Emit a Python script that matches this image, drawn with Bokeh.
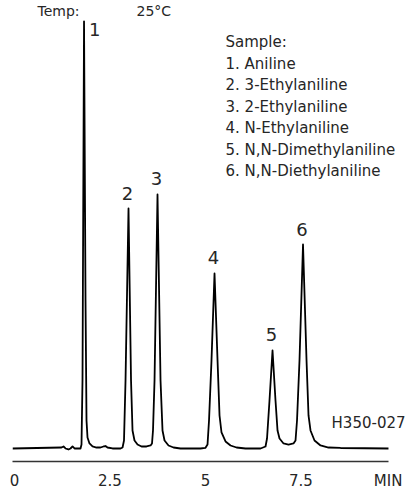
from bokeh.plotting import figure
from bokeh.models import ColumnDataSource, FixedTicker, Label, Range1d
from bokeh.core.properties import value
from bokeh.embed import file_html
from bokeh.resources import INLINE

# Chromatogram trace (time in min, detector signal in arbitrary units)
time_min = [-0.05, 1.233, 1.285, 1.337, 1.416, 1.468, 1.521, 1.573,
            1.730, 1.756, 1.782, 1.822, 1.861, 1.887, 1.913, 1.965, 2.044, 2.149, 2.253, 2.332, 2.384, 2.436, 2.567, 2.778,
            2.830, 2.868, 2.908, 2.986, 3.052, 3.091, 3.143, 3.222, 3.327, 3.458, 3.563, 3.601,
            3.627, 3.667, 3.745, 3.824, 3.876, 3.929, 4.033, 4.164, 4.347, 4.868, 4.997, 5.054,
            5.093, 5.158, 5.237, 5.316, 5.368, 5.420, 5.525, 5.656, 5.813, 6.048, 6.441, 6.572,
            6.611, 6.676, 6.755, 6.833, 6.886, 6.938, 7.043, 7.174, 7.304, 7.357,
            7.396, 7.461, 7.553, 7.645, 7.697, 7.749, 7.854, 8.011, 8.220, 8.534, 9.79]
signal = [0.0, 0.23, 0.47, 0.0, -0.23, 0.0, 0.47, 0.0,
          0.0, 0.93, 15.89, 99.8, 34.58, 6.54, 2.57, 1.17, 0.47, 0.23, 0.23, 0.47, 0.58, 0.23, 0.0, 0.0,
          0.23, 1.87, 15.89, 56.07, 15.89, 4.21, 1.87, 0.93, 0.47, 0.47, 0.70, 1.17,
          4.21, 15.89, 59.35, 15.89, 4.21, 1.87, 0.70, 0.23, 0.0, 0.0, 0.12, 0.93,
          6.54, 20.56, 40.89, 20.56, 7.71, 3.74, 1.64, 0.70, 0.23, 0.0, 0.0, 0.47,
          2.34, 11.21, 22.90, 11.21, 4.21, 2.34, 1.17, 0.93, 1.17, 1.87,
          6.54, 20.56, 47.66, 20.56, 7.71, 4.21, 1.87, 0.70, 0.23, 0.12, 0.0]

# Peaks
peak_ids = ["1", "2", "3", "4", "5", "6"]
peak_times = [1.822, 2.986, 3.745, 5.237, 6.755, 7.553]
peak_heights = [99.8, 56.07, 59.35, 40.89, 22.90, 47.66]

# Annotation texts
sample_lines = ["Sample:", "1. Aniline", "2. 3-Ethylaniline", "3. 2-Ethylaniline",
                "4. N-Ethylaniline", "5. N,N-Dimethylaniline", "6. N,N-Diethylaniline"]
temp_label = "Temp:"
temp_value = "25\u00b0C"
chart_code = "H350-027"

# Axis ticks
tick_values = [0, 2.5, 5, 7.5, 9.78]
tick_labels = ["0", "2.5", "5", "7.5", "MIN"]

FONT = "DejaVu Sans"
TXT = "#262626"

p = figure(frame_width=398, frame_height=461, output_backend="svg", toolbar_location=None,
           x_range=Range1d(-0.05, 10.366), y_range=Range1d(-3.04, 104.67),
           y_axis_location=None, min_border_left=12, min_border_right=0,
           min_border_top=0, min_border_bottom=28)
p.outline_line_color = None
p.xgrid.visible = False
p.ygrid.visible = False
p.background_fill_color = "white"
p.border_fill_color = "white"

ax = p.xaxis[0]
ax.bounds = (-0.05, 9.79)
ax.ticker = FixedTicker(ticks=tick_values)
ax.major_label_overrides = {v: l for v, l in zip(tick_values, tick_labels)}
ax.major_tick_line_color = None
ax.minor_tick_line_color = None
ax.major_tick_out = 0
ax.major_tick_in = 0
ax.major_label_standoff = 10
ax.axis_line_color = "#333333"
ax.axis_line_width = 1.6
ax.major_label_text_font = FONT
ax.major_label_text_font_size = "15px"
ax.major_label_text_color = TXT

src = ColumnDataSource(dict(t=time_min, s=signal))
p.line("t", "s", source=src, line_color="black", line_width=1.8, line_join="round")

# Peak numbers (peak 1 labelled to the right of its apex)
lab_src = ColumnDataSource(dict(t=peak_times[1:], h=peak_heights[1:], n=peak_ids[1:]))
p.text("t", "h", text="n", source=lab_src, text_font=value(FONT), text_font_size="18px",
       text_color=TXT, text_align="center", text_baseline="bottom", y_offset=-9, x_offset=-1)
p.add_layout(Label(x=peak_times[0], y=peak_heights[0], text=peak_ids[0], x_offset=5, y_offset=-2,
                   text_font=FONT, text_font_size="18px", text_color=TXT,
                   text_align="left", text_baseline="top"))

# Sample legend
for i, line in enumerate(sample_lines):
    p.add_layout(Label(x=5.525, y=94.86 - i * 5.02, text=line, text_font=FONT,
                       text_font_size="15px", text_color=TXT, text_baseline="middle"))

p.add_layout(Label(x=0.604, y=102.3, text=temp_label, text_font=FONT, text_font_size="14px",
                   text_color=TXT, text_baseline="middle"))
p.add_layout(Label(x=3.196, y=102.3, text=temp_value, text_font=FONT, text_font_size="14px",
                   text_color=TXT, text_baseline="middle"))
p.add_layout(Label(x=8.30, y=6.07, text=chart_code, text_font=FONT, text_font_size="15px",
                   text_color=TXT, text_baseline="middle"))

open("out.html", "w").write(file_html(p, INLINE))
